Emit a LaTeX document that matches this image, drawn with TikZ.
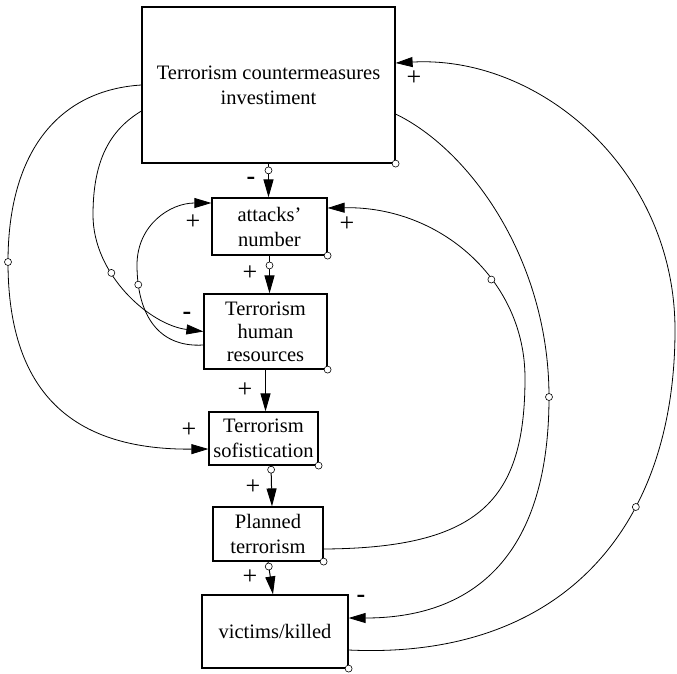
\documentclass[tikz,border=0pt]{standalone}
\usepackage{fontspec}
\setmainfont{Liberation Serif}
\usetikzlibrary{arrows.meta}
\begin{document}
\begin{tikzpicture}[x=1pt,y=-1pt,
  box/.style={draw, line width=1.2pt, align=center, inner sep=0pt, font=\fontsize{20.5}{25}\selectfont},
  arr/.style={line width=1pt, -{Triangle[length=18pt,width=10pt]}},
  link/.style={line width=0.8pt, -{Triangle[length=17pt,width=10pt]}},
  circ/.style={circle, draw, fill=white, line width=0.6pt, inner sep=0pt, minimum size=7pt},
  sign/.style={font=\fontsize{26}{26}\selectfont, inner sep=0pt}]
\useasboundingbox (0,0) rectangle (677,673);
% boxes
\node[box, minimum width=253pt, minimum height=156pt] (top) at (268.5,85) {Terrorism countermeasures\\investiment};
\node[box, minimum width=115pt, minimum height=57pt] (att) at (269.5,226.5) {attacks'\\number};
\node[box, minimum width=123pt, minimum height=75pt, font=\fontsize{20.5}{23}\selectfont] (hum) at (265.5,331.5) {Terrorism\\human\\resources};
\node[box, minimum width=109pt, minimum height=53pt] (sof) at (263.5,438.5) {Terrorism\\sofistication};
\node[box, minimum width=110pt, minimum height=54pt] (pla) at (268,534) {Planned\\terrorism};
\node[box, minimum width=146pt, minimum height=73pt] (vic) at (275,631.5) {victims/killed};
% vertical links
\draw[arr] (top.south) -- (top.south |- att.north) node[circ,pos=0.2]{};
\draw[arr] (att.south) -- (att.south |- hum.north) node[circ,pos=0.26]{};
\draw[arr] (hum.south) -- (hum.south |- sof.north);
\draw[arr] ([xshift=7.5pt]sof.south) -- ([xshift=8.5pt]sof.south |- pla.north) node[circ,pos=0.1]{};
\draw[arr] (pla.south) -- ([xshift=-2pt]vic.north) node[circ,pos=0.15]{};
% left curves
\draw[link] (top.west) .. controls (60,90) and (8,150) .. (8,262) node[circ,pos=1]{}
  .. controls (8,400) and (80,450) .. ([yshift=-10.5pt]sof.west);
\draw[link] ([yshift=-26pt]top.west) .. controls (110,130) and (93,160) .. (93,215)
  .. controls (93,275) and (150,325) .. (hum.west) node[circ,pos=0.35]{};
\draw[link] ([yshift=-13.5pt]hum.west) .. controls (155,348) and (137,310) .. (137,265) node[circ,pos=0.85]{}
  .. controls (137,225) and (170,203) .. ([yshift=23.5pt]att.west);
% right curves
\draw[link] ([yshift=-15pt]pla.east) .. controls (480,548) and (525,500) .. (525,378)
  .. controls (525,280) and (440,206) .. ([yshift=18.5pt]att.east) node[circ,pos=0.38]{};
\draw[link] ([yshift=-29pt]top.east) .. controls (470,150) and (549,260) .. (549,397) node[circ,pos=1]{}
  .. controls (549,560) and (470,618) .. ([yshift=13.5pt]vic.east);
\draw[link] ([yshift=-18.5pt]vic.east) .. controls (560,660) and (675,530) .. (675,330) node[circ,pos=0.66]{}
  .. controls (675,170) and (540,55) .. ([yshift=22pt]top.east);
% corner circles
\foreach \n in {top,att,hum,sof,pla,vic} \node[circ] at (\n.south east) {};
% signs
\node[sign] (s1) at (251,181) {\textbf{-}};
\node[sign] (s2) at (250,273) {+};
\node[sign] (s3) at (245,390) {+};
\node[sign] (s4) at (253,487) {+};
\node[sign] (s5) at (250,577) {+};
\node[sign] (s6) at (361,599) {\textbf{-}};
\node[sign] (s7) at (414,78) {+};
\node[sign] (s8) at (347,224) {+};
\node[sign] (s9) at (193,222) {+};
\node[sign] (s10) at (187,316) {\textbf{-}};
\node[sign] (s11) at (189,430) {+};
\end{tikzpicture}
\end{document}
